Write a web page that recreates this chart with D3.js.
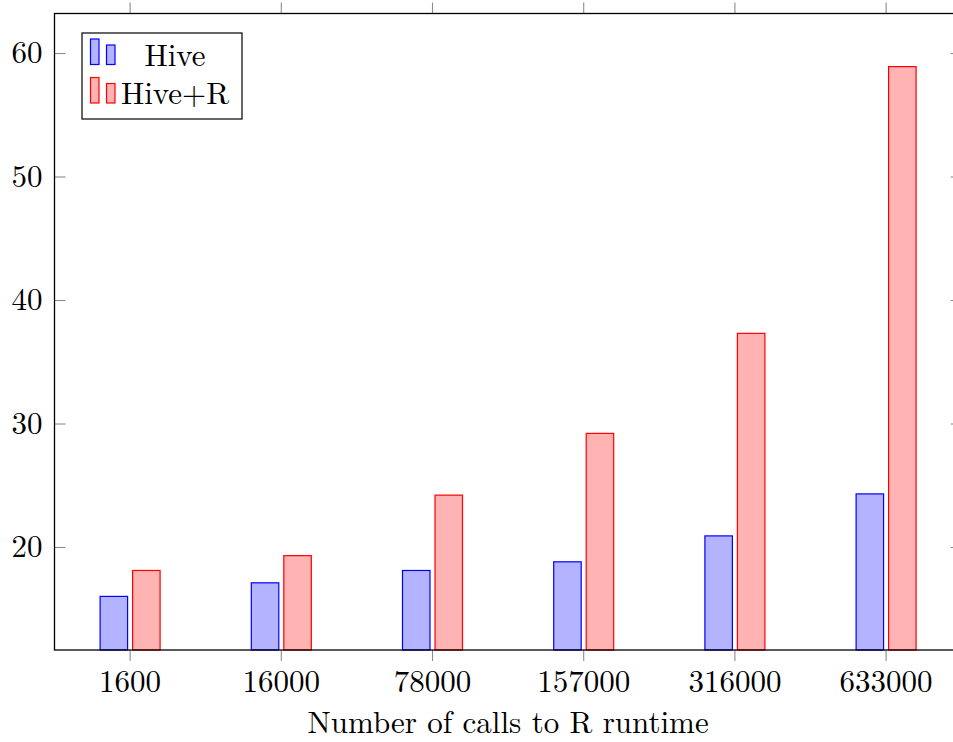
<!DOCTYPE html>
<html>
<head>
<meta charset="utf-8">
<script src="https://cdn.jsdelivr.net/npm/d3@7"></script>
<style>
    body{margin:0;background:#fff;}
    svg text{font-family:"Latin Modern Roman","CMU Serif","Liberation Serif",serif;fill:#000;}
</style>
</head>
<body>
<svg id="chart" width="953" height="742"></svg>
<script>
/*
 * Hive vs Hive+R bar chart
 */

var categories = ['1600', '16000', '78000', '157000', '316000', '633000'];
var series = ['Hive', 'Hive+R'];
var hiveValues = [16.0, 17.1, 18.1, 18.8, 20.9, 24.3];
var hiveRValues = [18.1, 19.3, 24.2, 29.2, 37.3, 58.9];
var yTicks = [20, 30, 40, 50, 60];
var xTitle = 'Number of calls to R runtime';

var colors = {
    'Hive': {fill:'#b3b3ff', stroke:'#0000ff'},
    'Hive+R': {fill:'#ffb3b3', stroke:'#ff0000'}
};

var box = {left:54.5, right:961.7, top:13.5, bottom:650};
var fontSize = 31;

var svg = d3.select('#chart');

var x = d3.scaleBand()
    .domain(categories)
    .range([box.left, box.right]);
var xs = d3.scaleBand()
    .domain(series)
    .range([-30, 30])
    .paddingInner(0.154);
var y = d3.scaleLinear()
    .domain([11.66, 63.2])
    .range([box.bottom, box.top]);

var rows = [];
for(var i = 0; i < categories.length; i++)
{
    rows.push({cat:categories[i], s:'Hive', v:hiveValues[i]});
    rows.push({cat:categories[i], s:'Hive+R', v:hiveRValues[i]});
}

// bars
svg.append('g')
    .selectAll('rect')
    .data(rows)
    .enter()
    .append('rect')
    .attr('x', function(d){ return x(d.cat) + x.bandwidth()/2 + xs(d.s); })
    .attr('y', function(d){ return y(d.v); })
    .attr('width', xs.bandwidth())
    .attr('height', function(d){ return box.bottom - y(d.v); })
    .attr('fill', function(d){ return colors[d.s].fill; })
    .attr('stroke', function(d){ return colors[d.s].stroke; })
    .attr('stroke-width', 1.2);

// axes: bottom ticks out, top ticks out, left/right ticks in
var tickLen = 11;
var bottomAxis = d3.axisBottom(x).tickSizeInner(tickLen).tickSizeOuter(0).tickPadding(8.5);
var topAxis = d3.axisTop(x).tickSizeInner(tickLen).tickSizeOuter(0).tickFormat('');
var leftAxis = d3.axisLeft(y).tickValues(yTicks).tickSizeInner(-tickLen).tickSizeOuter(0).tickPadding(12);
var rightAxis = d3.axisRight(y).tickValues(yTicks).tickSizeInner(-tickLen).tickSizeOuter(0).tickFormat('');

function styleAxis(g){
    g.select('.domain').remove();
    g.selectAll('.tick line').attr('stroke', '#8c8c8c').attr('stroke-width', 1.1);
    g.selectAll('.tick text').attr('font-size', fontSize).attr('font-family', null);
}

svg.append('g').attr('transform', 'translate(0,' + box.bottom + ')').call(bottomAxis).call(styleAxis);
svg.append('g').attr('transform', 'translate(0,' + box.top + ')').call(topAxis).call(styleAxis);
svg.append('g').attr('transform', 'translate(' + box.left + ',0)').call(leftAxis).call(styleAxis);
svg.append('g').attr('transform', 'translate(' + box.right + ',0)').call(rightAxis).call(styleAxis);

// frame
svg.append('rect')
    .attr('x', box.left)
    .attr('y', box.top)
    .attr('width', box.right - box.left)
    .attr('height', box.bottom - box.top)
    .attr('fill', 'none')
    .attr('stroke', '#000')
    .attr('stroke-width', 1.3);

// x title
svg.append('text')
    .attr('x', (box.left + box.right)/2)
    .attr('y', 733)
    .attr('text-anchor', 'middle')
    .attr('font-size', fontSize)
    .text(xTitle);

// legend
var legend = svg.append('g');
legend.append('rect')
    .attr('x', 82).attr('y', 33)
    .attr('width', 160).attr('height', 86)
    .attr('fill', '#fff')
    .attr('stroke', '#000')
    .attr('stroke-width', 1.2);
var entry = legend.selectAll('g.entry')
    .data(series)
    .enter()
    .append('g')
    .attr('class', 'entry')
    .attr('transform', function(d, i){ return 'translate(0,' + (i*38.5) + ')'; });
entry.append('rect')
    .attr('x', 90.5).attr('y', 39)
    .attr('width', 8.5).attr('height', 25.5)
    .attr('fill', function(d){ return colors[d].fill; })
    .attr('stroke', function(d){ return colors[d].stroke; })
    .attr('stroke-width', 1.2);
entry.append('rect')
    .attr('x', 106.5).attr('y', 45)
    .attr('width', 8.5).attr('height', 19.5)
    .attr('fill', function(d){ return colors[d].fill; })
    .attr('stroke', function(d){ return colors[d].stroke; })
    .attr('stroke-width', 1.2);
entry.append('text')
    .attr('x', 175).attr('y', 65.5)
    .attr('text-anchor', 'middle')
    .attr('font-size', fontSize)
    .text(function(d){ return d; });
</script>
</body>
</html>
